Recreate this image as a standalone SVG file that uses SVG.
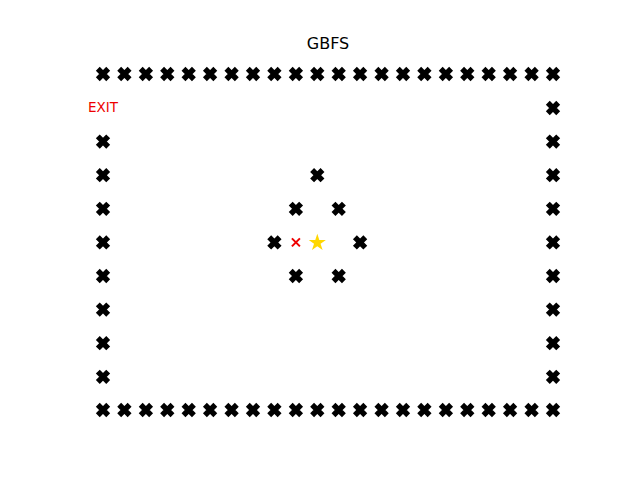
<svg xmlns="http://www.w3.org/2000/svg" xmlns:xlink="http://www.w3.org/1999/xlink" width="640" height="480" viewBox="0 0 640 480">
<style>
.w{stroke:#000;stroke-width:5.5;fill:none}
.t{font-family:"DejaVu Sans",sans-serif;text-anchor:middle}
</style>
<defs>
<g id="X"><path class="w" d="M-5.2,-5.2L5.2,5.2M-5.2,5.2L5.2,-5.2"/></g>
</defs>
<rect width="640" height="480" fill="#fff"/>
<text class="t" x="328" y="49" font-size="16">GBFS</text>
<g id="walls">
<g id="top">
<use xlink:href="#X" x="103" y="74"/><use xlink:href="#X" x="124.4" y="74"/><use xlink:href="#X" x="145.9" y="74"/><use xlink:href="#X" x="167.3" y="74"/><use xlink:href="#X" x="188.7" y="74"/><use xlink:href="#X" x="210.1" y="74"/><use xlink:href="#X" x="231.6" y="74"/><use xlink:href="#X" x="253" y="74"/><use xlink:href="#X" x="274.4" y="74"/><use xlink:href="#X" x="295.9" y="74"/><use xlink:href="#X" x="317.3" y="74"/><use xlink:href="#X" x="338.7" y="74"/><use xlink:href="#X" x="360.1" y="74"/><use xlink:href="#X" x="381.6" y="74"/><use xlink:href="#X" x="403" y="74"/><use xlink:href="#X" x="424.4" y="74"/><use xlink:href="#X" x="445.9" y="74"/><use xlink:href="#X" x="467.3" y="74"/><use xlink:href="#X" x="488.7" y="74"/><use xlink:href="#X" x="510.1" y="74"/><use xlink:href="#X" x="531.6" y="74"/><use xlink:href="#X" x="553" y="74"/>
</g>
<g id="bottom">
<use xlink:href="#X" x="103" y="410"/><use xlink:href="#X" x="124.4" y="410"/><use xlink:href="#X" x="145.9" y="410"/><use xlink:href="#X" x="167.3" y="410"/><use xlink:href="#X" x="188.7" y="410"/><use xlink:href="#X" x="210.1" y="410"/><use xlink:href="#X" x="231.6" y="410"/><use xlink:href="#X" x="253" y="410"/><use xlink:href="#X" x="274.4" y="410"/><use xlink:href="#X" x="295.9" y="410"/><use xlink:href="#X" x="317.3" y="410"/><use xlink:href="#X" x="338.7" y="410"/><use xlink:href="#X" x="360.1" y="410"/><use xlink:href="#X" x="381.6" y="410"/><use xlink:href="#X" x="403" y="410"/><use xlink:href="#X" x="424.4" y="410"/><use xlink:href="#X" x="445.9" y="410"/><use xlink:href="#X" x="467.3" y="410"/><use xlink:href="#X" x="488.7" y="410"/><use xlink:href="#X" x="510.1" y="410"/><use xlink:href="#X" x="531.6" y="410"/><use xlink:href="#X" x="553" y="410"/>
</g>
<g id="left">
<use xlink:href="#X" x="103" y="141.6"/><use xlink:href="#X" x="103" y="175.2"/><use xlink:href="#X" x="103" y="208.8"/><use xlink:href="#X" x="103" y="242.4"/><use xlink:href="#X" x="103" y="276"/><use xlink:href="#X" x="103" y="309.6"/><use xlink:href="#X" x="103" y="343.2"/><use xlink:href="#X" x="103" y="376.8"/>
</g>
<g id="right">
<use xlink:href="#X" x="553" y="108"/><use xlink:href="#X" x="553" y="141.6"/><use xlink:href="#X" x="553" y="175.2"/><use xlink:href="#X" x="553" y="208.8"/><use xlink:href="#X" x="553" y="242.4"/><use xlink:href="#X" x="553" y="276"/><use xlink:href="#X" x="553" y="309.6"/><use xlink:href="#X" x="553" y="343.2"/><use xlink:href="#X" x="553" y="376.8"/>
</g>
<g id="inner">
<use xlink:href="#X" x="317.3" y="175.2"/><use xlink:href="#X" x="295.9" y="208.8"/><use xlink:href="#X" x="338.7" y="208.8"/><use xlink:href="#X" x="274.4" y="242.4"/><use xlink:href="#X" x="360.1" y="242.4"/><use xlink:href="#X" x="295.9" y="276"/><use xlink:href="#X" x="338.7" y="276"/>
</g>
</g>
<g id="exit"><text class="t" x="103" y="112" font-size="13.5" fill="#e00">EXIT</text></g>
<g id="agent"><path d="M291.9,238.4L299.9,246.4M291.9,246.4L299.9,238.4" stroke="#e00" stroke-width="2" fill="none"/></g>
<g id="goal"><polygon transform="translate(317.3,242.8)" fill="#ffd700" points="0,-9 2.02,-2.78 8.56,-2.78 3.27,1.06 5.29,7.28 0,3.44 -5.29,7.28 -3.27,1.06 -8.56,-2.78 -2.02,-2.78"/></g>
</svg>
